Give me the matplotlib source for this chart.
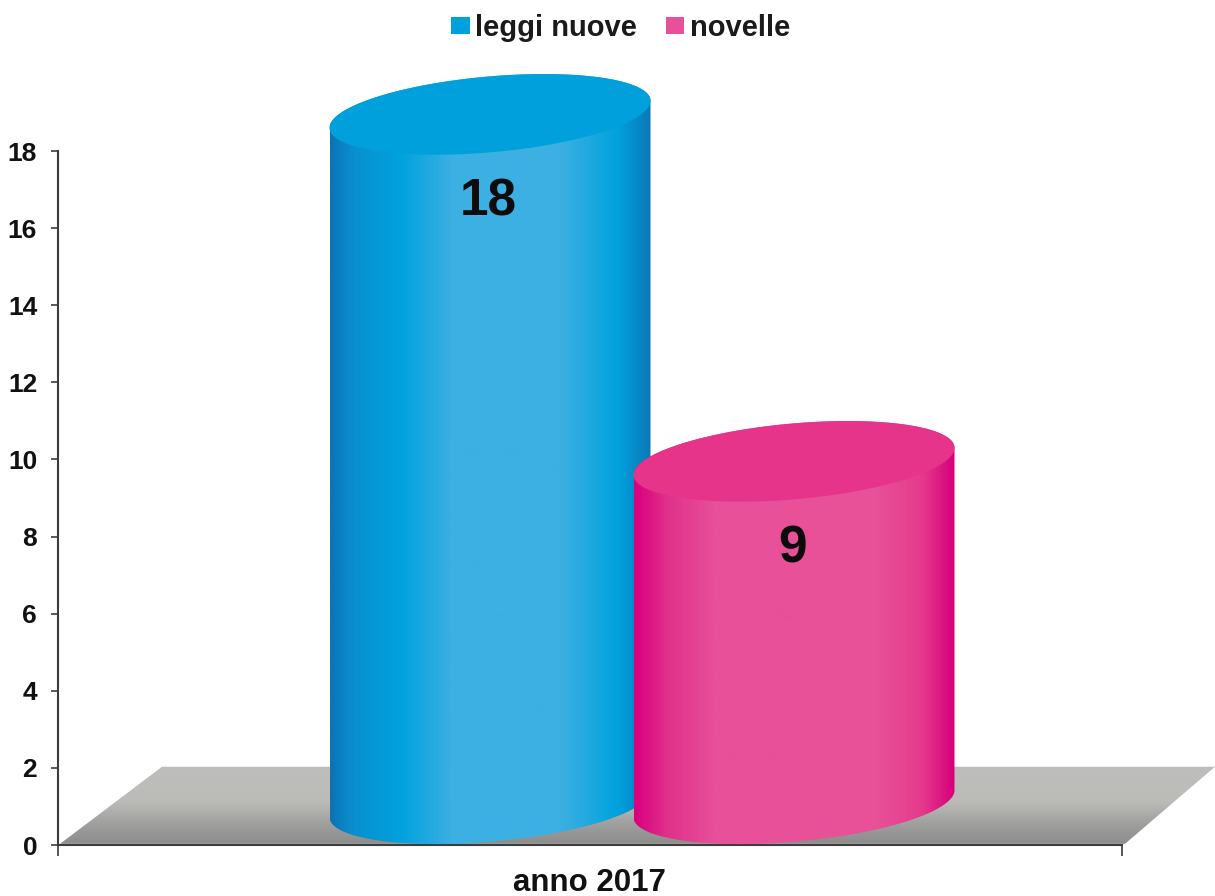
import numpy as np
import matplotlib
matplotlib.use("Agg")
import matplotlib.pyplot as plt
from matplotlib.colors import LinearSegmentedColormap
from matplotlib.patches import PathPatch, Patch, Polygon
from matplotlib.path import Path

series = ["leggi nuove", "novelle"]
values = [18, 9]
category = ["anno 2017"]
y_ticks = [0, 2, 4, 6, 8, 10, 12, 14, 16, 18]

W, H = 1215, 896
plt.rcParams["font.family"] = ["Liberation Sans", "DejaVu Sans"]
fig = plt.figure(figsize=(W / 100, H / 100), dpi=100, facecolor="white")
L, R, T, B = 58, 1122, 151, 845
ax = fig.add_axes([L / W, 1 - B / H, (R - L) / W, (B - T) / H])
ax.set_xlim(L, R)          # horizontal scale: category space
ax.set_ylim(0, 18)
ppu = (B - T) / 18.0       # pixels per value unit

# styles
tops = ["#00a0dc", "#e5348a"]
grads = [
    [(0, "#0a74b4"), (.07, "#0a8fcf"), (.22, "#00a2de"), (.38, "#3cb0e2"), (.72, "#3cb0e2"), (.90, "#00a2de"), (1, "#0a78b8")],
    [(0, "#d8007f"), (.10, "#e0308a"), (.25, "#e8509a"), (.75, "#e85298"), (.90, "#e53a8c"), (1, "#d6007c")],
]
centers = [490, 794]
label_drop = [1.33, 1.32]
half_w = 160.5
b_pix = 38.0
shear_pix = 13.5
depth = 1.07              # base ellipse centre, in value units

# floor
fl_top = 2.03
floor_poly = Polygon([(60, 0.03), (162, fl_top), (1215, fl_top), (1125, 0.03)], closed=True,
                     transform=ax.transData, facecolor="none", edgecolor="none", clip_on=False)
ax.add_patch(floor_poly)
fcm = LinearSegmentedColormap.from_list("f", [(0, "#8b8b8b"), (.25, "#9e9e9d"), (.55, "#bbbbb8"), (1, "#bebebc")])
im = ax.imshow(np.linspace(0, 1, 256)[::-1, None], extent=(60, 1215, 0, fl_top), aspect="auto",
               cmap=fcm, vmin=0, vmax=1, zorder=1)
im.set_clip_path(floor_poly)
im.set_clip_box(fig.bbox)

def ell(cx, cy, t):
    x = cx + half_w * np.cos(t)
    y = cy + (b_pix * np.sin(t) + shear_pix * np.cos(t)) / ppu
    return x, y

for i, v in enumerate(values):
    cx = centers[i]
    base = depth
    top = v + depth - 0.12
    t_low = np.linspace(np.pi, 2 * np.pi, 120)
    bx, by = ell(cx, base, t_low)
    t_up = np.linspace(0, np.pi, 120)
    ux, uy = ell(cx, top, t_up)
    verts = np.vstack([np.c_[bx, by], np.c_[ux, uy], [[bx[0], by[0]]]])
    codes = [Path.MOVETO] + [Path.LINETO] * (len(verts) - 2) + [Path.CLOSEPOLY]
    body = PathPatch(Path(verts, codes), facecolor="none", edgecolor="none",
                     transform=ax.transData, zorder=2 + i, clip_on=False)
    ax.add_patch(body)
    cm = LinearSegmentedColormap.from_list("c%d" % i, grads[i])
    g = ax.imshow(np.linspace(0, 1, 320)[None, :], extent=(cx - half_w, cx + half_w, 0, top + 2),
                  aspect="auto", cmap=cm, vmin=0, vmax=1, zorder=2 + i)
    g.set_clip_path(body)
    g.set_clip_box(fig.bbox)
    t = np.linspace(0, 2 * np.pi, 240)
    ex, ey = ell(cx, top, t)
    ax.fill(ex, ey, color=tops[i], lw=0, zorder=2 + i, clip_on=False)
    ax.text(cx - 2, v - label_drop[i], str(v), ha="center", va="center", fontsize=37,
            fontweight="bold", color="#0c0c0c", zorder=10)

ax.set_xlim(L, R)
ax.set_ylim(0, 18)

for s in ["top", "right"]:
    ax.spines[s].set_visible(False)
for s in ["left", "bottom"]:
    ax.spines[s].set_color("#3c3c3c")
    ax.spines[s].set_linewidth(1.5)
    ax.spines[s].set_zorder(1.5)
ax.set_yticks(y_ticks)
ax.tick_params(axis="y", length=5, width=1.2, color="#3c3c3c", pad=10, labelsize=19, labelcolor="#111111")
for lab in ax.get_yticklabels():
    lab.set_fontweight("bold")
ax.set_xticks([L, R])
ax.set_xticklabels(["", ""])
ax.tick_params(axis="x", length=8, width=1.2, color="#3c3c3c")
ax.text((L + R) / 2 - 1, -0.99, category[0], ha="center", va="center", fontsize=22.5,
        fontweight="bold", color="#111111", clip_on=False)

handles = [Patch(facecolor="#00a0dc", edgecolor="none", label=series[0]),
           Patch(facecolor="#e8509a", edgecolor="none", label=series[1])]
leg = fig.legend(handles=handles, loc="center", bbox_to_anchor=(621 / W, 1 - 28 / H), ncol=2, frameon=False,
                 prop={"weight": "bold", "size": 21}, handlelength=0.62, handleheight=0.55,
                 handletextpad=0.2, columnspacing=1.0, labelcolor="#1a1a1a", borderpad=0, borderaxespad=0)

fig.savefig("out.png", dpi=100)
